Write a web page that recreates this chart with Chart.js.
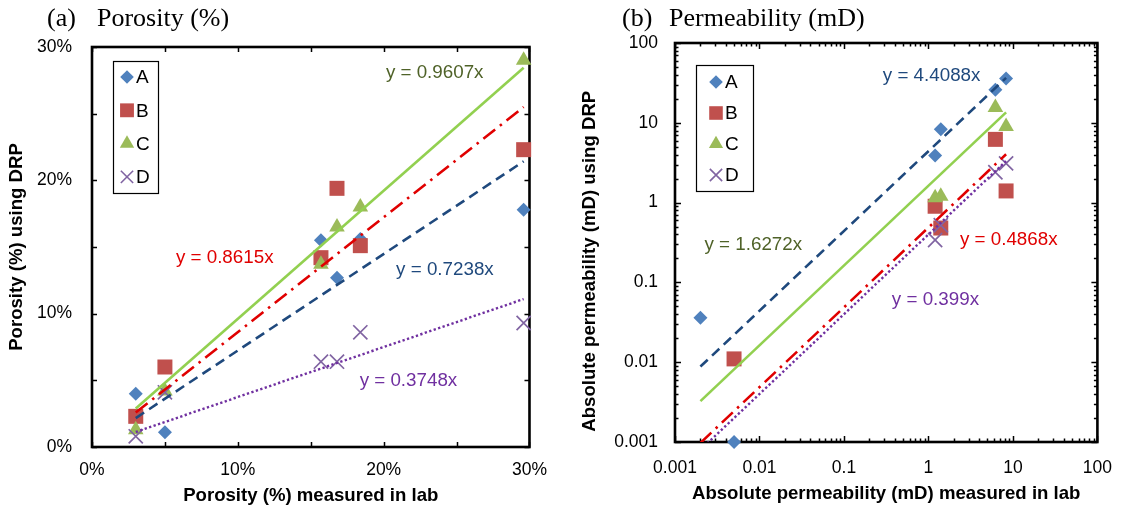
<!DOCTYPE html>
<html>
<head>
<meta charset="utf-8">
<script src="https://cdn.jsdelivr.net/npm/chart.js@4/dist/chart.umd.min.js"></script>
<style>
    html, body { margin: 0; padding: 0; background: #fff; }
    #wrap { position: relative; width: 1128px; height: 510px; overflow: hidden; }
    canvas { position: absolute; top: 0; }
    #chartA { left: 0; }
    #chartB { left: 560px; }
    .ttl { position: absolute; top: 3px; font-family: "Liberation Serif", "Times New Roman", serif; font-size: 26px; color: #000; white-space: nowrap; }
</style>
</head>
<body>
<div id="wrap">
    <canvas id="chartA" width="560" height="510"></canvas>
    <canvas id="chartB" width="568" height="510"></canvas>
    <div class="ttl" style="left:47px">(a)</div>
    <div class="ttl" style="left:97px">Porosity (%)</div>
    <div class="ttl" style="left:622px">(b)</div>
    <div class="ttl" style="left:669px">Permeability (mD)</div>
</div>
<script>
// ── Data: (a) porosity, % ──
const seriesNames = ['A', 'B', 'C', 'D'];
const porLab = [3.0, 5.0, 15.7, 16.8, 18.4, 29.6];
const porA = [4.0, 1.1, 15.5, 12.7, 15.6, 17.8];
const porB = [2.3, 6.0, 14.2, 19.4, 15.1, 22.3];
const porC = [1.3, 4.2, 13.7, 16.5, 18.0, 29.0];
const porD = [0.8, 4.1, 6.4, 6.4, 8.6, 9.3];
const porSlope = [0.7238, 0.8615, 0.9607, 0.3748];
const porTicks = [0, 10, 20, 30];

// ── Data: (b) permeability, mD ──
const permLab = [0.002, 0.005, 1.2, 1.4, 6.2, 8.3];
const permA = [0.036, 0.001, 3.9, 8.3, 26, 36];
const permB = [null, 0.011, 0.9, 0.48, 6.2, 1.4];
const permC = [null, null, 1.15, 1.2, 15.5, 9.0];
const permD = [null, null, 0.34, 0.52, 2.4, 3.1];
const permSlope = [4.4088, 0.4868, 1.6272, 0.399];
const permTicks = [0.001, 0.01, 0.1, 1, 10, 100];

// ── Styles ──
const SANS = "'Liberation Sans', Arial, sans-serif";
const markerColor = ['#4F81BD', '#C0504D', '#9BBB59', '#8064A2'];
const markerStyle = ['rectRot', 'rect', 'triangle', 'crossRot'];
const markerRadius = [7, 10.6, 9, 10];
const lineColor = ['#1F497D', '#E00000', '#92D050', '#7030A0'];
const lineDash = [[10, 6], [15, 6, 2.5, 6], [], [2.3, 2.4]];
const eqColor = ['#1F497D', '#E00000', '#4F6228', '#7030A0'];

Chart.defaults.font.family = SANS;
Chart.defaults.color = '#000';

function pts(xs, ys) {
    return xs.map((x, i) => ({ x, y: ys[i] })).filter(p => p.y !== null);
}

function buildDatasets(xs, ysList, slopes) {
    const sets = ysList.map((ys, i) => ({
        label: seriesNames[i],
        data: pts(xs, ys),
        pointStyle: markerStyle[i],
        pointRadius: markerRadius[i],
        backgroundColor: markerColor[i],
        borderColor: markerColor[i],
        borderWidth: i === 3 ? 1.7 : 0,
        clip: false,
        order: 10 - i
    }));
    // trendlines through the origin, spanning the lab range
    const x0 = xs[0], x1 = xs[xs.length - 1];
    slopes.forEach((s, i) => {
        sets.push({
            label: 'fit ' + seriesNames[i],
            data: [{ x: x0, y: s * x0 }, { x: x1, y: s * x1 }],
            showLine: true,
            pointRadius: 0,
            borderColor: lineColor[i],
            borderDash: lineDash[i],
            borderWidth: i === 3 ? 2.4 : 2.6,
            fill: false,
            order: i
        });
    });
    return sets;
}

// ── Plugin: frame on four sides with inward ticks ──
const framePlugin = {
    id: 'frame',
    beforeDatasetsDraw(chart, args, opts) {
        const { ctx, chartArea: a, scales: { x, y } } = chart;
        ctx.save();
        ctx.strokeStyle = '#000';
        ctx.lineWidth = 1.5;
        ctx.beginPath();
        opts.xMarks.forEach(t => {
            const px = Math.round(x.getPixelForValue(t.v)) + 0.5;
            ctx.moveTo(px, a.bottom); ctx.lineTo(px, a.bottom - t.len);
            ctx.moveTo(px, a.top); ctx.lineTo(px, a.top + t.len);
        });
        opts.yMarks.forEach(t => {
            const py = Math.round(y.getPixelForValue(t.v)) + 0.5;
            ctx.moveTo(a.left, py); ctx.lineTo(a.left + t.len, py);
            ctx.moveTo(a.right, py); ctx.lineTo(a.right - t.len, py);
        });
        ctx.stroke();
        ctx.lineWidth = 2.6;
        ctx.strokeRect(a.left, a.top, a.width, a.height);
        ctx.restore();
    }
};

// ── Plugin: boxed legend inside the plot ──
const boxLegendPlugin = {
    id: 'boxLegend',
    afterDatasetsDraw(chart, args, o) {
        const ctx = chart.ctx;
        ctx.save();
        ctx.fillStyle = '#fff';
        ctx.fillRect(o.left, o.top, o.width, o.height);
        ctx.strokeStyle = '#000';
        ctx.lineWidth = 1.2;
        ctx.strokeRect(o.left + 0.5, o.top + 0.5, o.width, o.height);
        seriesNames.forEach((name, i) => {
            const cy = o.firstRow + i * o.rowStep;
            ctx.fillStyle = markerColor[i];
            ctx.strokeStyle = markerColor[i];
            ctx.lineWidth = i === 3 ? 1.6 : 0;
            Chart.helpers.drawPoint(ctx, {
                pointStyle: markerStyle[i],
                radius: o.markerRadius[i],
                borderWidth: i === 3 ? 1.6 : 0,
                rotation: 0
            }, o.markerX, cy);
            ctx.fillStyle = '#000';
            ctx.font = '19px ' + SANS;
            ctx.textBaseline = 'middle';
            ctx.textAlign = 'left';
            ctx.fillText(name, o.textX, cy + 1);
        });
        ctx.restore();
    }
};

// ── Plugin: trendline equations, placed in data units ──
const eqPlugin = {
    id: 'equations',
    afterDatasetsDraw(chart, args, o) {
        const { ctx, scales: { x, y } } = chart;
        ctx.save();
        ctx.font = '18.8px ' + SANS;
        ctx.textAlign = 'center';
        ctx.textBaseline = 'middle';
        o.items.forEach(it => {
            ctx.fillStyle = eqColor[it.series];
            ctx.fillText('y = ' + it.slope + 'x', x.getPixelForValue(it.x), y.getPixelForValue(it.y));
        });
        ctx.restore();
    }
};

function axisTitle(text, pad, align) {
    return { display: true, text, align: align || 'center', font: { size: 18.6, weight: 'bold', family: SANS }, color: '#000', padding: pad };
}

// ── (a) Porosity ──
const porMarks = [];
for (let v = 0; v <= 30; v += 5) porMarks.push({ v, len: 5 });

new Chart(document.getElementById('chartA'), {
    type: 'scatter',
    data: { datasets: buildDatasets(porLab, [porA, porB, porC, porD], porSlope) },
    options: {
        responsive: false,
        animation: false,
        devicePixelRatio: 1,
        events: [],
        layout: { padding: { top: 47, right: 27, left: 0, bottom: 0 } },
        scales: {
            x: {
                type: 'linear', min: 0, max: 30,
                afterBuildTicks: s => { s.ticks = porTicks.map(v => ({ value: v })); },
                afterFit: s => { s.height = 63; },
                grid: { display: false, drawTicks: false },
                border: { display: false },
                ticks: { font: { size: 17.5 }, padding: 13, maxRotation: 0, callback: v => v + '%' },
                title: axisTitle('Porosity (%) measured in lab', { top: 0, bottom: 3 })
            },
            y: {
                type: 'linear', min: 0, max: 30,
                afterBuildTicks: s => { s.ticks = porTicks.map(v => ({ value: v })); },
                afterFit: s => { s.width = 92; },
                grid: { display: false, drawTicks: false },
                border: { display: false },
                ticks: { font: { size: 17.5 }, padding: 20, callback: v => v + '%' },
                title: axisTitle('Porosity (%) using DRP', { top: 6, bottom: 0 })
            }
        },
        plugins: {
            legend: { display: false },
            tooltip: { enabled: false },
            frame: { xMarks: porMarks, yMarks: porMarks },
            boxLegend: {
                left: 113, top: 61, width: 45, height: 132,
                firstRow: 77, rowStep: 33.3, markerX: 127, textX: 136,
                markerRadius: [6.8, 9.8, 8.3, 8.7]
            },
            equations: {
                items: [
                    { series: 2, slope: '0.9607', x: 23.5, y: 28.05 },
                    { series: 1, slope: '0.8615', x: 9.1, y: 14.2 },
                    { series: 0, slope: '0.7238', x: 24.2, y: 13.3 },
                    { series: 3, slope: '0.3748', x: 21.7, y: 5.0 }
                ]
            }
        }
    },
    plugins: [framePlugin, boxLegendPlugin, eqPlugin]
});

// ── (b) Permeability ──
const permMarks = [];
for (let d = -3; d <= 2; d++) {
    for (let m = 1; m <= 9; m++) {
        const v = m * Math.pow(10, d);
        if (v > 100.0001) break;
        permMarks.push({ v, len: m === 1 ? 6 : 3.5 });
    }
}

new Chart(document.getElementById('chartB'), {
    type: 'scatter',
    data: { datasets: buildDatasets(permLab, [permA, permB, permC, permD], permSlope) },
    options: {
        responsive: false,
        animation: false,
        devicePixelRatio: 1,
        events: [],
        layout: { padding: { top: 43, right: 21, left: 0, bottom: 0 } },
        scales: {
            x: {
                type: 'logarithmic', min: 0.001, max: 100,
                afterBuildTicks: s => { s.ticks = permTicks.map(v => ({ value: v, major: true })); },
                afterFit: s => { s.height = 68; },
                grid: { display: false, drawTicks: false },
                border: { display: false },
                ticks: { font: { size: 17.5 }, padding: 16, maxRotation: 0, autoSkip: false, callback: v => String(v) },
                title: axisTitle('Absolute permeability (mD) measured in lab', { top: 0, bottom: 5 })
            },
            y: {
                type: 'logarithmic', min: 0.001, max: 100,
                afterBuildTicks: s => { s.ticks = permTicks.map(v => ({ value: v, major: true })); },
                afterFit: s => { s.width = 115; },
                grid: { display: false, drawTicks: false },
                border: { display: false },
                ticks: { font: { size: 17.5 }, padding: 17, autoSkip: false, callback: v => String(v) },
                // starts just above the bottom of the plot, as in the original
                title: axisTitle('  Absolute permeability (mD) using DRP', { top: 19, bottom: 0 }, 'start')
            }
        },
        plugins: {
            legend: { display: false },
            tooltip: { enabled: false },
            frame: { xMarks: permMarks, yMarks: permMarks },
            boxLegend: {
                left: 136, top: 65, width: 57, height: 126,
                firstRow: 82, rowStep: 31, markerX: 156, textX: 165,
                markerRadius: [6.8, 9.6, 8.2, 8.7]
            },
            equations: {
                items: [
                    { series: 0, slope: '4.4088', x: 1.09, y: 38.3 },
                    { series: 2, slope: '1.6272', x: 0.00845, y: 0.30 },
                    { series: 1, slope: '0.4868', x: 8.93, y: 0.337 },
                    { series: 3, slope: '0.399', x: 1.21, y: 0.0597 }
                ]
            }
        }
    },
    plugins: [framePlugin, boxLegendPlugin, eqPlugin]
});
</script>
</body>
</html>
